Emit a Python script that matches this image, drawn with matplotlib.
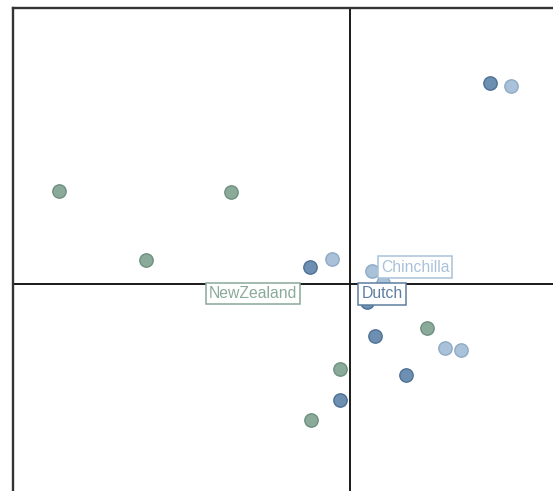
import numpy as np
import matplotlib
matplotlib.use("Agg")
import matplotlib.pyplot as plt

# factor scores of each individual, grouped by breed
nz_x = [-2.91, -1.19, -2.04, 0.77, -0.10, -0.39]
nz_y = [0.93, 0.92, 0.24, -0.44, -0.85, -1.36]

dutch_x = [1.40, -0.40, 0.17, 0.25, 0.56, -0.10]
dutch_y = [2.01, 0.17, -0.18, -0.52, -0.91, -1.16]

chin_x = [1.61, -0.18, 0.22, 0.33, 0.95, 1.11]
chin_y = [1.98, 0.25, 0.13, 0.01, -0.64, -0.66]

# breed centroids, used for the labels
lab_names = ["NewZealand", "Dutch", "Chinchilla"]
lab_x = [-0.97, 0.32, 0.65]
lab_y = [-0.095, -0.10, 0.17]

c_nz = "#8aaa9a"
c_dutch = "#6d8fb1"
c_chin = "#aac2d9"
e_nz = "#6f8f80"
e_dutch = "#4f7193"
e_chin = "#8eaac4"

plt.rcParams["font.family"] = ["Liberation Sans", "DejaVu Sans"]

fig = plt.figure(figsize=(5.53, 4.91), dpi=100)
W, H = 553.0, 491.0
ax = fig.add_axes([13 / W, -60 / H, 650 / W, (491 - 8 + 60) / H])
ax.set_xlim(-3.37, 3.13)
ax.set_ylim(-2.67, 2.76)

ax.axhline(0, color="#1a1a1a", lw=1.4, zorder=1)
ax.axvline(0, color="#1a1a1a", lw=1.4, zorder=1)

ax.plot(nz_x, nz_y, "o", ms=9.6, mfc=c_nz, mec=e_nz, mew=1, zorder=3)
ax.plot(dutch_x, dutch_y, "o", ms=9.6, mfc=c_dutch, mec=e_dutch, mew=1, zorder=3)
ax.plot(chin_x, chin_y, "o", ms=9.6, mfc=c_chin, mec=e_chin, mew=1, zorder=3)

text_cols = [c_nz, "#5d7f9f", c_chin]
for name, x, y, col in zip(lab_names, lab_x, lab_y, text_cols):
    ax.text(x, y, name, color=col, fontsize=11.3, ha="center", va="center",
            zorder=4,
            bbox=dict(boxstyle="square,pad=0.2", fc="white", ec=col, lw=1.1))

for s in ax.spines.values():
    s.set_color("#333333")
    s.set_linewidth(1.7)
ax.set_xticks([])
ax.set_yticks([])

fig.savefig("out.png", dpi=100)
